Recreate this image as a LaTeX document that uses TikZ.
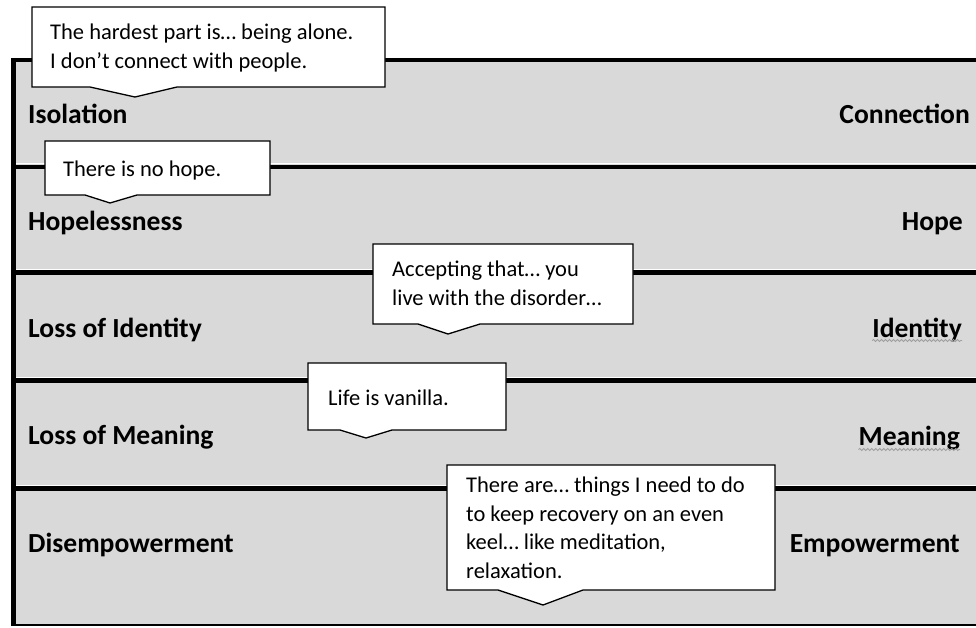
\documentclass[tikz,border=0pt]{standalone}
\usepackage{fontspec}
\setmainfont{Carlito}
\usetikzlibrary{decorations.pathmorphing,calc}
\definecolor{bandgrey}{HTML}{D9D9D9}
\begin{document}
\begin{tikzpicture}[x=1pt,y=-1pt,
  band/.style={fill=bandgrey},
  rule/.style={line width=4.5pt},
  sheen/.style={draw=white,line width=0.8pt},
  callbox/.style={fill=white,draw=black,line width=1.3pt,line join=miter},
  quote/.style={font=\fontsize{22.5}{28.5}\selectfont,align=left,anchor=base west,inner sep=0pt},
  lbl/.style={font=\fontsize{27.6}{32}\selectfont\bfseries,inner sep=0pt},
  spell/.style={draw=gray!75,line width=0.8pt,decorate,decoration={snake,amplitude=1pt,segment length=4pt}}]
\useasboundingbox (0,0) rectangle (976,627);
\fill[white] (0,0) rectangle (976,627);
% bands
\fill[band] (13,60) rectangle (976,625);
\foreach \y in {167,272.5,380.5,488.5} \draw[sheen] (16,\y-3.6) -- (976,\y-3.6);
\foreach \y in {60,167,272.5,380.5,488.5} \draw[rule] (11.25,\y) -- (976,\y);
\draw[rule] (13.5,57.75) -- (13.5,625.5);
\draw[line width=1.2pt] (13,625) -- (976,625);
% left labels
\node[lbl,anchor=base west] (l1) at (28,123) {Isolation};
\node[lbl,anchor=base west] (l2) at (28,230) {Hopelessness};
\node[lbl,anchor=base west] (l3) at (28,337) {Loss of Identity};
\node[lbl,anchor=base west] (l4) at (28,444) {Loss of Meaning};
\node[lbl,anchor=base west] (l5) at (28,552) {Disempowerment};
% right labels
\node[lbl,anchor=base east] (r1) at (970,123) {Connection};
\node[lbl,anchor=base east] (r2) at (963,230) {Hope};
\node[lbl,anchor=base east] (r3) at (962,337) {Identity};
\node[lbl,anchor=base east] (r4) at (960,445) {Meaning};
\node[lbl,anchor=base east] (r5) at (960,552) {Empowerment};
\draw[spell] ($(r3.base west)+(0,3.5)$) -- ($(r3.base east)+(0,3.5)$);
\draw[spell] ($(r4.base west)+(0,4.5)$) -- ($(r4.base east)+(0,4.5)$);
% callouts (base anchor = baseline of last line)
\draw[callbox] (32,7) -- (385,7) -- (385,87) -- (177,87) -- (135,97) -- (90,87) -- (32,87) -- cycle;
\node[quote] (q1) at (50,68) {The hardest part is… being alone.\\I don’t connect with people.};
\draw[callbox] (45,141) -- (270,141) -- (270,195) -- (137,195) -- (110,203) -- (85,195) -- (45,195) -- cycle;
\node[quote] (q2) at (63,176) {There is no hope.};
\draw[callbox] (373,244) -- (633,244) -- (633,324) -- (480,324) -- (448,334) -- (418,324) -- (373,324) -- cycle;
\node[quote] (q3) at (392,305) {Accepting that… you\\live with the disorder…};
\draw[callbox] (308,363) -- (506,363) -- (506,430) -- (392,430) -- (366,438) -- (340,430) -- (308,430) -- cycle;
\node[quote] (q4) at (328,405) {Life is vanilla.};
\draw[callbox] (447,465) -- (775,465) -- (775,590) -- (583,590) -- (543,605) -- (498,590) -- (447,590) -- cycle;
\node[quote] (q5) at (466,578) {There are… things I need to do\\to keep recovery on an even\\keel… like meditation,\\relaxation.};
\end{tikzpicture}
\end{document}
